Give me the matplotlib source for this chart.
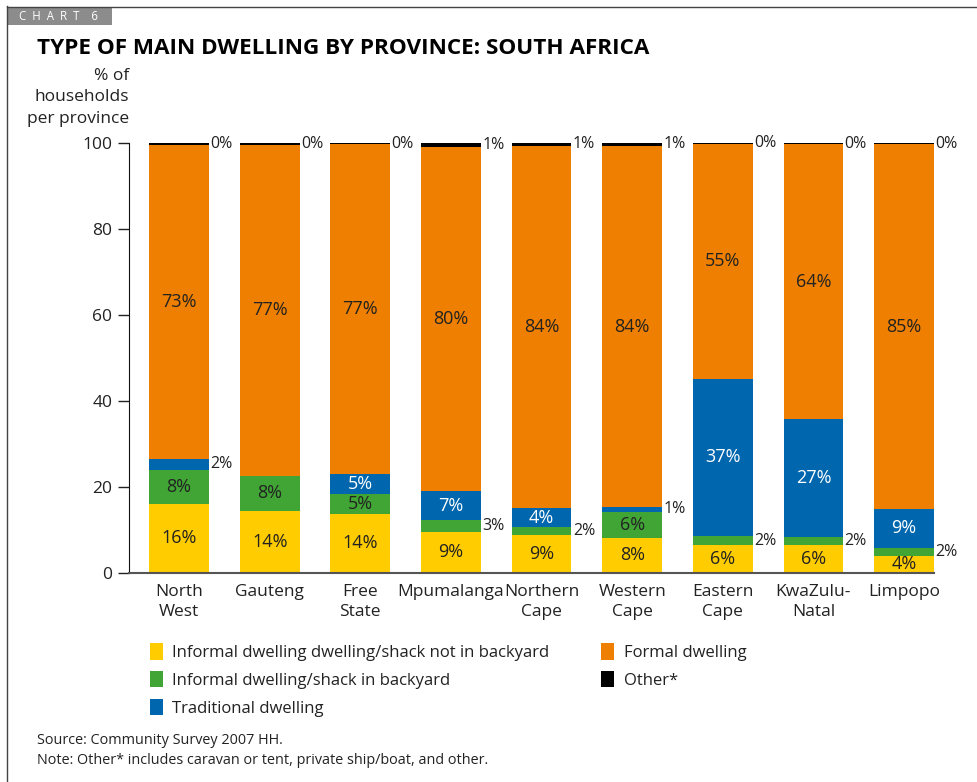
import numpy as np
from matplotlib import pyplot as plt
from matplotlib.patches import Patch, Rectangle
from matplotlib.lines import Line2D

plt.rcParams['font.family'] = ['Open Sans', 'DejaVu Sans']

provinces = ['North\nWest', 'Gauteng', 'Free\nState', 'Mpumalanga', 'Northern\nCape',
             'Western\nCape', 'Eastern\nCape', 'KwaZulu-\nNatal', 'Limpopo']

# % of households per province, bottom to top of each bar
shack_not_backyard = [16.0, 14.4, 13.7, 9.4, 8.8, 8.1, 6.4, 6.4, 3.9]
shack_backyard     = [8.0, 8.1, 4.6, 2.8, 1.8, 6.0, 2.1, 1.9, 1.9]
traditional        = [2.4, 0.0, 4.7, 6.8, 4.4, 1.2, 36.6, 27.4, 9.0]
formal             = [73.1, 77.0, 76.6, 80.0, 84.2, 83.9, 54.6, 63.9, 84.8]
other              = [0.5, 0.5, 0.4, 1.0, 0.8, 0.8, 0.3, 0.4, 0.4]

# where each segment's label goes: 'in' (centred), 'side' (right of bar), '' (none)
pos_shack_nb = ['in'] * 9
pos_shack_b  = ['in', 'in', 'in', 'side', 'side', 'in', 'side', 'side', 'side']
pos_trad     = ['side', '', 'in', 'in', 'in', 'side', 'in', 'in', 'in']
pos_formal   = ['in'] * 9
pos_other    = ['side'] * 9

series = [
    ('Informal dwelling dwelling/shack not in backyard', shack_not_backyard, '#FFCC00', '#222222', pos_shack_nb),
    ('Informal dwelling/shack in backyard', shack_backyard, '#40A535', '#222222', pos_shack_b),
    ('Traditional dwelling', traditional, '#0066AD', 'white', pos_trad),
    ('Formal dwelling', formal, '#EE7F00', '#222222', pos_formal),
    ('Other*', other, '#000000', '#222222', pos_other),
]

fig = plt.figure(figsize=(9.78, 7.82), dpi=100)
ax = fig.add_axes([129/978, 1 - 572.7/782, (934 - 129)/978, (572.7 - 142.7)/782])

x = np.arange(len(provinces))
w = 0.66
bottom = np.zeros(len(provinces))
for name, vals, col, tcol, where in series:
    vals = np.array(vals)
    ax.bar(x, vals, w, bottom=bottom, color=col, label=name, linewidth=0)
    for i, v in enumerate(vals):
        lab = '%d%%' % round(v)
        if where[i] == 'in':
            ax.text(x[i], bottom[i] + v / 2, lab, ha='center', va='center',
                    fontsize=13, color=tcol)
        elif where[i] == 'side':
            ax.text(x[i] + w / 2 + 0.015, bottom[i] + v / 2, lab, ha='left', va='center',
                    fontsize=11.5, color='#222222', clip_on=False)
    bottom += vals

ax.set_xlim(-0.552, 8 + w / 2)
ax.set_ylim(0, 100)
ax.set_yticks(range(0, 101, 20))
ax.tick_params(axis='y', labelsize=12.5, length=8, width=1, colors='#222222', pad=4)
ax.set_xticks(x)
ax.set_xticklabels(provinces, fontsize=12.5, color='#222222', linespacing=1.35)
ax.tick_params(axis='x', length=0, pad=8)
for s in ['top', 'right']:
    ax.spines[s].set_visible(False)
ax.spines['left'].set_color('#111111')
ax.spines['bottom'].set_color('#555555')
ax.spines['bottom'].set_linewidth(1.5)

fig.text(129/978, 1 - 68/782, '% of\nhouseholds\nper province', ha='right', va='top',
         fontsize=12.5, color='#222222', linespacing=1.45)

fig.text(37/978, 1 - 48/782, 'TYPE OF MAIN DWELLING BY PROVINCE: SOUTH AFRICA',
         ha='left', va='center', fontsize=16.2, fontweight='bold', color='black')

# chart tag and frame
fig.patches.append(Rectangle((7/978, 1 - 25/782), 105/978, 18/782, transform=fig.transFigure,
                             facecolor='#8C8C8C', edgecolor='none'))
fig.text(19/978, 1 - 16/782, 'C  H  A  R  T    6', ha='left', va='center', fontsize=8.3,
         color='white')
fig.lines.append(Line2D([7/978, 7/978], [0, 1 - 6/782], transform=fig.transFigure,
                        color='#444444', lw=1))
fig.lines.append(Line2D([7/978, 1], [1 - 6.5/782, 1 - 6.5/782], transform=fig.transFigure,
                        color='#444444', lw=1))

handles = [Patch(facecolor=c, edgecolor='none') for _, _, c, _, _ in series]
labels = [n for n, _, _, _, _ in series]
fig.legend(handles, labels, ncol=2, loc='upper left', bbox_to_anchor=(135/978, 1 - 628/782),
           frameon=False, fontsize=12, handlelength=0.75, handleheight=1.15,
           handletextpad=0.6, columnspacing=3.1, labelspacing=0.6, labelcolor='#222222')

fig.text(37/978, 1 - 740/782, 'Source: Community Survey 2007 HH.', ha='left', va='center',
         fontsize=10.4, color='#222222')
fig.text(37/978, 1 - 761/782, 'Note: Other* includes caravan or tent, private ship/boat, and other.',
         ha='left', va='center', fontsize=10.4, color='#222222')

fig.savefig('out.png', dpi=100)
